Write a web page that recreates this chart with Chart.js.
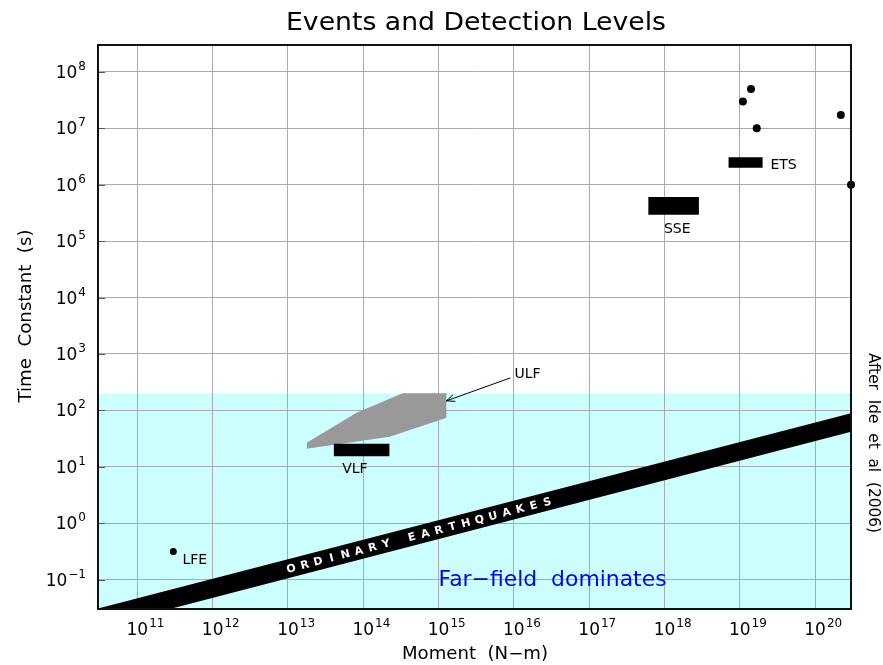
<!DOCTYPE html>
<html><head><meta charset="utf-8">
<script src="https://cdn.jsdelivr.net/npm/chart.js@4.4.1/dist/chart.umd.min.js"></script>
<style>html,body{margin:0;padding:0;background:#fff;}#wrap{width:883px;height:665px;position:relative;}</style>
</head><body><div id="wrap"><canvas id="c" width="883" height="665"></canvas></div>
<script>
// ---------- texts ----------
const TITLE = 'Events and Detection Levels';
const X_TITLE = 'Moment  (N\u2212m)';
const Y_TITLE = 'Time  Constant  (s)';
const CREDIT = 'After  Ide  et  al  (2006)';
const FAR_FIELD = 'Far\u2212field  dominates';
const BAND_WORDS = ['ORDINARY', 'EARTHQUAKES'];

// ---------- axes ----------
const xExponents = [11, 12, 13, 14, 15, 16, 17, 18, 19, 20];
const yExponents = [-1, 0, 1, 2, 3, 4, 5, 6, 7, 8];
const xRange = [3e10, 3e20];
const yRange = [0.03, 3e8];

// ---------- data (moment N-m, time constant s) ----------
const detectionLimit = 200;

const bandMoment = [1e10, 1e21];
const bandUpper = [0.0209, 134.9];
const bandLower = [0.00955, 63.1];

const ulfUpperMoment = [1.77e13, 8.15e13, 3.33e14, 1.28e15];
const ulfUpperTime = [26.7, 90.8, 200, 200];
const ulfLowerMoment = [1.77e13, 2.24e14, 1.28e15];
const ulfLowerTime = [20.8, 34.1, 74.1];

const vlfMoment = [4.04e13, 2.24e14];
const vlfTime = [15.3, 25.6];
const sseMoment = [6.08e17, 2.87e18];
const sseTime = [2.92e5, 6.03e5];
const etsMoment = [7.05e18, 2.02e19];
const etsTime = [1.99e6, 3.08e6];

const eventMoment = [1.41e19, 1.10e19, 1.68e19, 2.20e20, 3.0e20];
const eventTime = [5.0e7, 2.98e7, 1.0e7, 1.73e7, 1.0e6];
const lfeMoment = [3.0e11];
const lfeTime = [0.313];

// ---------- annotation anchors (data units) ----------
const labels = [
  {text: 'LFE', m: 3.96e11, t: 0.189, align: 'left'},
  {text: 'VLF', m: 7.73e13, t: 7.76, align: 'center'},
  {text: 'SSE', m: 1.48e18, t: 1.40e5, align: 'center'},
  {text: 'ETS', m: 2.55e19, t: 1.91e6, align: 'left'},
  {text: 'ULF', m: 1.02e16, t: 375, align: 'left'}
];
const ulfArrow = {from: [8.97e15, 375], to: [1.27e15, 147]};
const farFieldAnchor = [1e15, 0.077];
const bandTextCenter = 5.5e14;

// ---------- helpers ----------
const pts = (xs, ys) => xs.map((x, i) => ({x: x, y: ys[i]}));
const rectTop = (m, t) => [{x: m[0], y: t[1]}, {x: m[1], y: t[1]}];
const rectBot = (m, t) => [{x: m[0], y: t[0]}, {x: m[1], y: t[0]}];
const FONT = '"DejaVu Sans", "Liberation Sans", sans-serif';

function fitText(ctx, text, x, y, targetW, font, rot, color, align) {
  ctx.save();
  ctx.font = font;
  const w = ctx.measureText(text).width;
  ctx.translate(x, y);
  ctx.rotate(rot);
  ctx.scale(targetW / w, 1);
  ctx.fillStyle = color || '#000';
  ctx.textAlign = align || 'center';
  ctx.textBaseline = 'alphabetic';
  ctx.fillText(text, 0, 0);
  ctx.restore();
}

const bgPlugin = {
  id: 'bg',
  beforeDraw(chart) {
    const ctx = chart.ctx, a = chart.chartArea, ys = chart.scales.y;
    ctx.save();
    ctx.fillStyle = '#fff';
    ctx.fillRect(0, 0, chart.width, chart.height);
    const yTop = ys.getPixelForValue(detectionLimit);
    ctx.fillStyle = '#ccffff';
    ctx.fillRect(a.left, yTop, a.right - a.left, a.bottom - yTop);
    ctx.restore();
  }
};

const overlayPlugin = {
  id: 'overlay',
  afterDatasetsDraw(chart) {
    const ctx = chart.ctx, xs = chart.scales.x, ys = chart.scales.y;
    const x0 = xs.getPixelForValue(bandMoment[0]), x1 = xs.getPixelForValue(bandMoment[1]);
    const u0 = ys.getPixelForValue(bandUpper[0]), u1 = ys.getPixelForValue(bandUpper[1]);
    const l0 = ys.getPixelForValue(bandLower[0]), l1 = ys.getPixelForValue(bandLower[1]);
    const cxp = xs.getPixelForValue(bandTextCenter);
    const f = (cxp - x0) / (x1 - x0);
    const cyp = ((u0 + (u1 - u0) * f) + (l0 + (l1 - l0) * f)) / 2;
    const ang = Math.atan2(((u1 + l1) - (u0 + l0)) / 2, x1 - x0);
    const pitch = 14.0, gap = 1.9;
    const slots = [];
    let pos = 0;
    BAND_WORDS.forEach((w, wi) => {
      if (wi > 0) pos += gap;
      for (let i = 0; i < w.length; i++) { slots.push({c: w[i], p: pos}); if (i < w.length - 1) pos += 1; }
    });
    const total = pos;
    ctx.save();
    ctx.translate(cxp, cyp);
    ctx.rotate(ang);
    ctx.fillStyle = '#fff';
    ctx.font = 'bold 11px ' + FONT;
    ctx.textAlign = 'center';
    ctx.textBaseline = 'middle';
    slots.forEach(s => ctx.fillText(s.c, (s.p - total / 2) * pitch, 1));
    ctx.restore();
  },
  afterDraw(chart) {
    const ctx = chart.ctx, a = chart.chartArea, xs = chart.scales.x, ys = chart.scales.y;
    ctx.save();
    ctx.strokeStyle = '#555';
    ctx.lineWidth = 1;
    yExponents.forEach(e => {
      const py = Math.round(ys.getPixelForValue(Math.pow(10, e))) + 0.5;
      ctx.beginPath(); ctx.moveTo(a.left, py); ctx.lineTo(a.left + 7, py); ctx.stroke();
    });
    ctx.strokeStyle = '#111';
    ctx.lineWidth = 2;
    ctx.strokeRect(a.left, a.top, a.right - a.left, a.bottom - a.top);
    ctx.fillStyle = '#000';
    ctx.textBaseline = 'alphabetic';
    ctx.textAlign = 'left';
    const bigF = '17px ' + FONT, smallF = '12px ' + FONT;
    xExponents.forEach(e => {
      const px = xs.getPixelForValue(Math.pow(10, e));
      ctx.font = bigF;
      const w10 = ctx.measureText('10').width;
      ctx.fillText('10', px - w10 / 2, 635);
      ctx.font = smallF;
      ctx.fillText(String(e), px + w10 / 2 + 1, 627);
    });
    yExponents.forEach(e => {
      const py = ys.getPixelForValue(Math.pow(10, e));
      const es = e < 0 ? '\u2212' + Math.abs(e) : String(e);
      ctx.font = smallF;
      const ew = ctx.measureText(es).width;
      ctx.font = bigF;
      const w10 = ctx.measureText('10').width;
      const right = a.left - 12;
      ctx.fillText('10', right - ew - 1 - w10, py + 6);
      ctx.font = smallF;
      ctx.fillText(es, right - ew, py - 2);
    });
    fitText(ctx, TITLE, 476, 30, 380, '24px ' + FONT, 0);
    fitText(ctx, X_TITLE, 475, 659, 146, '17px ' + FONT, 0);
    fitText(ctx, Y_TITLE, 31, 316, 173, '17px ' + FONT, -Math.PI / 2);
    fitText(ctx, CREDIT, 869, 443, 180, '15px ' + FONT, Math.PI / 2);
    fitText(ctx, FAR_FIELD, xs.getPixelForValue(farFieldAnchor[0]), ys.getPixelForValue(farFieldAnchor[1]),
            228, '22px ' + FONT, 0, '#0000ff', 'left');
    ctx.fillStyle = '#000';
    ctx.font = '14px ' + FONT;
    labels.forEach(l => {
      ctx.textAlign = l.align;
      ctx.fillText(l.text, xs.getPixelForValue(l.m), ys.getPixelForValue(l.t));
    });
    const ax0 = xs.getPixelForValue(ulfArrow.from[0]), ay0 = ys.getPixelForValue(ulfArrow.from[1]);
    const ax1 = xs.getPixelForValue(ulfArrow.to[0]), ay1 = ys.getPixelForValue(ulfArrow.to[1]);
    ctx.strokeStyle = '#000';
    ctx.lineWidth = 1;
    ctx.beginPath(); ctx.moveTo(ax0, ay0); ctx.lineTo(ax1, ay1); ctx.stroke();
    const th = Math.atan2(ay1 - ay0, ax1 - ax0), hl = 9, ha = 0.4;
    ctx.beginPath();
    ctx.moveTo(ax1 - hl * Math.cos(th - ha), ay1 - hl * Math.sin(th - ha));
    ctx.lineTo(ax1, ay1);
    ctx.lineTo(ax1 - hl * Math.cos(th + ha), ay1 - hl * Math.sin(th + ha));
    ctx.stroke();
    ctx.restore();
  }
};

const edge = (data, fill, color) => ({
  type: 'line', data: data, borderWidth: 0, borderColor: 'rgba(0,0,0,0)',
  pointRadius: 0, fill: fill, backgroundColor: color, tension: 0
});

const datasets = [
  {type: 'scatter', data: pts(eventMoment, eventTime), pointRadius: 4, pointBackgroundColor: '#000', pointBorderWidth: 0, clip: false},
  {type: 'scatter', data: pts(lfeMoment, lfeTime), pointRadius: 3.5, pointBackgroundColor: '#000', pointBorderWidth: 0},
  edge(rectTop(etsMoment, etsTime), '+1', '#000'),
  edge(rectBot(etsMoment, etsTime), false, '#000'),
  edge(rectTop(sseMoment, sseTime), '+1', '#000'),
  edge(rectBot(sseMoment, sseTime), false, '#000'),
  edge(rectTop(vlfMoment, vlfTime), '+1', '#000'),
  edge(rectBot(vlfMoment, vlfTime), false, '#000'),
  edge(pts(ulfUpperMoment, ulfUpperTime), '+1', '#999999'),
  edge(pts(ulfLowerMoment, ulfLowerTime), false, '#999999'),
  edge(pts(bandMoment, bandUpper), '+1', '#000'),
  edge(pts(bandMoment, bandLower), false, '#000')
];

new Chart(document.getElementById('c'), {
  type: 'line',
  data: {datasets: datasets},
  options: {
    responsive: false,
    animation: false,
    events: [],
    layout: {padding: {left: 98, right: 32, top: 45, bottom: 56}, autoPadding: false},
    plugins: {legend: {display: false}, tooltip: {enabled: false}, title: {display: false}},
    scales: {
      x: {
        type: 'logarithmic', min: xRange[0], max: xRange[1],
        afterBuildTicks: s => { s.ticks = xExponents.map(e => ({value: Math.pow(10, e)})); },
        grid: {color: '#aaaaaa', lineWidth: 1, drawTicks: false},
        border: {display: false},
        ticks: {display: false}
      },
      y: {
        type: 'logarithmic', min: yRange[0], max: yRange[1],
        afterBuildTicks: s => { s.ticks = yExponents.map(e => ({value: Math.pow(10, e)})); },
        grid: {color: '#aaaaaa', lineWidth: 1, drawTicks: false},
        border: {display: false},
        ticks: {display: false}
      }
    }
  },
  plugins: [bgPlugin, overlayPlugin]
});
</script></body></html>
